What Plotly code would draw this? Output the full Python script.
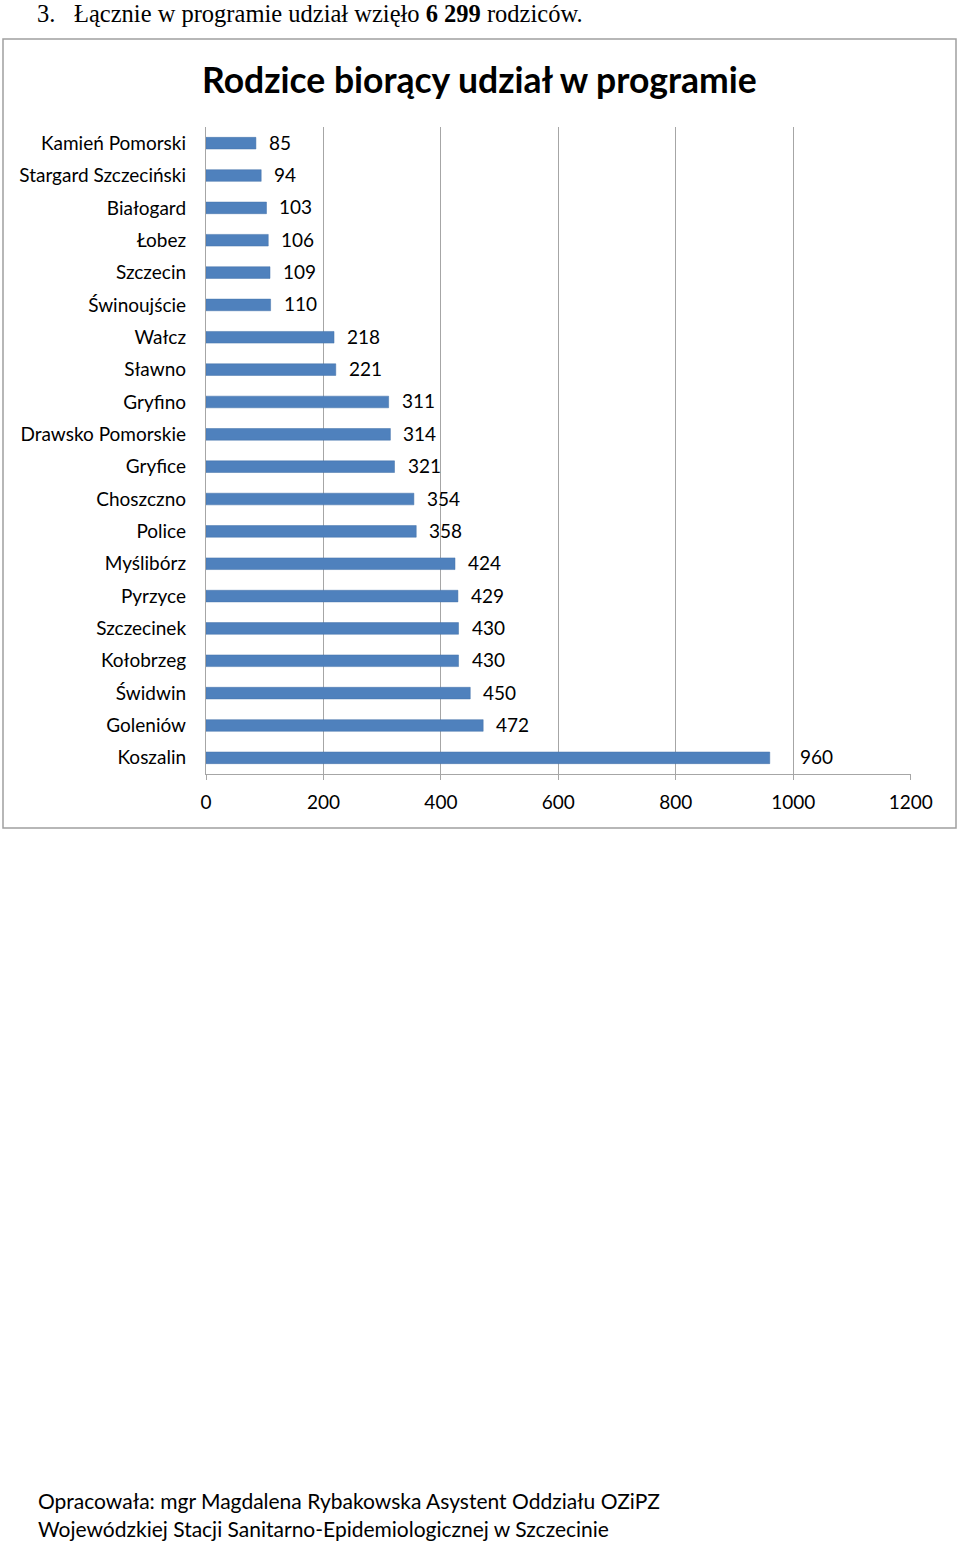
import plotly.graph_objects as go

categories = ["Kamień Pomorski", "Stargard Szczeciński", "Białogard", "Łobez", "Szczecin",
              "Świnoujście", "Wałcz", "Sławno", "Gryfino", "Drawsko Pomorskie", "Gryfice",
              "Choszczno", "Police", "Myślibórz", "Pyrzyce", "Szczecinek", "Kołobrzeg",
              "Świdwin", "Goleniów", "Koszalin"]
values = [85, 94, 103, 106, 109, 110, 218, 221, 311, 314, 321, 354, 358, 424, 429, 430, 430, 450, 472, 960]
x_ticks = [0, 200, 400, 600, 800, 1000, 1200]

W, H = 960, 1541
def px(x):
    return x / W
def py(y):
    return 1 - y / H

font_main = "Lato, Open Sans, sans-serif"
grid_col = "#a6a6a6"

fig = go.Figure()
fig.add_trace(go.Bar(
    x=values, y=categories, orientation="h",
    marker=dict(color="#4F81BD", line=dict(color="#4472a8", width=0.5)),
    width=0.36, hoverinfo="x+y",
))

label_shift = [11] * (len(values) - 1) + [28]
for c, v, s in zip(categories, values, label_shift):
    fig.add_annotation(x=v, y=c, text=str(v), xref="x", yref="y", xanchor="left",
                       yanchor="middle", xshift=s, yshift=1, showarrow=False,
                       font=dict(family=font_main, size=19, color="#000"))

fig.update_layout(
    width=W, height=H, margin=dict(l=0, r=0, t=0, b=0, pad=0, autoexpand=False),
    paper_bgcolor="white", plot_bgcolor="white", showlegend=False,
    bargap=0.6,
    xaxis=dict(domain=[px(206), px(911)], range=[0, 1200.5], tickvals=x_ticks, automargin=False,
               showgrid=True, gridcolor=grid_col, gridwidth=1.3, zeroline=False,
               showline=True, linecolor=grid_col, linewidth=1.3,
               ticks="outside", ticklen=5, tickcolor=grid_col, ticklabelstandoff=6,
               tickfont=dict(family=font_main, size=19, color="#000"), anchor="y"),
    yaxis=dict(domain=[py(774), py(127)], autorange="reversed", type="category", automargin=False,
               showgrid=False, zeroline=False, showline=True, linecolor=grid_col, linewidth=1.3,
               ticks="", ticklabelstandoff=15,
               tickfont=dict(family=font_main, size=19, color="#000")),
)

# chart frame
fig.add_shape(type="rect", xref="paper", yref="paper", x0=px(3), x1=px(956), y0=py(828), y1=py(39),
              line=dict(color="#a0a0a0", width=1.5), fillcolor="rgba(0,0,0,0)", layer="below")

fig.add_annotation(x=px(479), y=py(79), xref="paper", yref="paper", xanchor="center", yanchor="middle",
                   text="<b>Rodzice biorący udział w programie</b>", showarrow=False,
                   font=dict(family=font_main, size=35.5, color="#000"))

serif = "Liberation Serif, Times New Roman, serif"
fig.add_annotation(x=px(36), y=py(14), xref="paper", yref="paper", xanchor="left", yanchor="middle",
                   text="3.", showarrow=False, borderpad=0,
                   font=dict(family=serif, size=24.5, color="#000"))
fig.add_annotation(x=px(73), y=py(14), xref="paper", yref="paper", xanchor="left", yanchor="middle",
                   text="Łącznie w programie udział wzięło <b>6 299</b> rodziców.", showarrow=False,
                   borderpad=0, font=dict(family=serif, size=24.5, color="#000"))

fig.add_annotation(x=px(36), y=py(1500), xref="paper", yref="paper", xanchor="left", yanchor="middle",
                   text="Opracowała: mgr Magdalena Rybakowska Asystent Oddziału OZiPZ", showarrow=False,
                   font=dict(family=font_main, size=21, color="#000"))
fig.add_annotation(x=px(36), y=py(1528), xref="paper", yref="paper", xanchor="left", yanchor="middle",
                   text="Wojewódzkiej Stacji Sanitarno-Epidemiologicznej w Szczecinie", showarrow=False,
                   font=dict(family=font_main, size=21, color="#000"))

fig.write_html(
    "out.html",
    config={"responsive": False, "displayModeBar": False},
    post_script="document.body.style.margin='0';document.body.style.overflow='hidden';"
                "document.documentElement.style.overflow='hidden';",
)
